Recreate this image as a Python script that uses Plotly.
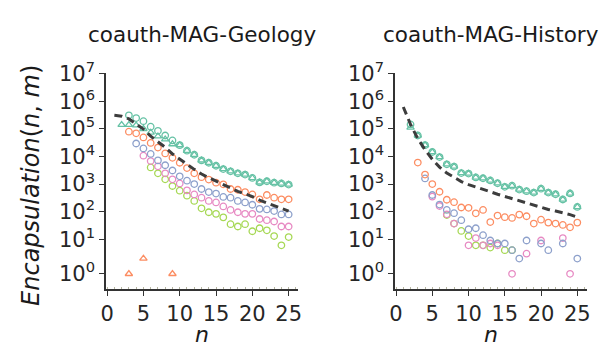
import math
import plotly.graph_objects as go

# ---------------- data ----------------
n_null = list(range(1, 26))

# coauth-MAG-Geology
geo_null = [309000, 288000, 229000, 145000, 98000, 54000, 34000, 21400, 12300, 7800,
            5200, 3400, 2300, 1700, 1260, 930, 710, 540, 440, 350, 260, 205, 162, 132, 105]
geo_teal_n = list(range(3, 26))
geo_teal = [309000, 245000, 190000, 120000, 85000, 57500, 38000, 25700, 16200, 11500,
            7200, 5900, 4600, 3500, 2900, 2450, 2200, 1660, 1150, 1260, 1120, 1050, 955]
geo_teal_tri_n = list(range(2, 26))
geo_teal_tri = [140000, 140000, 135000, 100000, 74000, 54000, 42000, 28000, 25700, 16200,
                11500, 7200, 5900, 4600, 3500, 2900, 2450, 2200, 1660, 1150, 1260, 1120, 1050, 955]
geo_orange_n = list(range(3, 26))
geo_orange = [79000, 69000, 49000, 31000, 21000, 12900, 8900, 5900, 3800, 2450, 1780, 1450,
              1120, 980, 660, 620, 510, 420, 280, 400, 320, 280, 280]
geo_orange_tri_n = [3, 5, 9]
geo_orange_tri = [1, 2, 1]
geo_purple_n = list(range(4, 26))
geo_purple = [29500, 19500, 12300, 7200, 4800, 3100, 1900, 1320, 1000, 660, 510, 450, 340,
              320, 245, 215, 178, 126, 120, 105, 79, 79]
geo_pink_n = list(range(5, 26))
geo_pink = [10700, 6800, 4400, 2450, 1480, 1050, 590, 420, 320, 245, 215, 155, 115, 95, 83,
            83, 54, 49, 44, 29, 29]
geo_green_n = list(range(6, 26))
geo_green = [4000, 2450, 1480, 850, 575, 380, 245, 132, 95, 83, 62, 35, 29, 35, 19.5, 25,
             21, 13, 6, 12]

# coauth-MAG-History
his_null = [617000, 145000, 44000, 17400, 7900, 4100, 2500, 1740, 1230, 955, 795, 630, 525,
            427, 355, 288, 240, 200, 170, 141, 120, 105, 93, 78, 63]
his_teal_n = list(range(2, 26))
his_teal = [145000, 57500, 25700, 14500, 9500, 5200, 4300, 2500, 2400, 1740, 1620, 1350,
            1070, 795, 870, 630, 550, 490, 680, 490, 427, 275, 457, 148]
his_teal_tri = [112000, 57500, 25700, 14500, 9500, 5200, 4300, 2500, 2400, 1740, 1620, 1350,
                1070, 795, 870, 630, 550, 490, 680, 490, 427, 275, 457, 148]
his_orange_n = list(range(3, 26))
his_orange = [6000, 2200, 1000, 525, 270, 220, 141, 138, 87, 115, 42, 72, 63, 59, 78, 68,
              37, 51, 40, 37, 33, 27, 40]
his_purple_n = list(range(4, 26))
his_purple = [1600, 400, 180, 115, 88, 49, 23, 25, 14, 9, 7, 7, 4, 2, 9, None, 7, 4, None,
              7, None, 2]
his_pink_n = list(range(5, 26))
his_pink = [350, 160, 80, 37, None, 6, 11, 6, 7, 6, None, 1, None, 3, None, 9, None, None,
            11, 1, None]
his_green_n = list(range(7, 17))
his_green = [75, 37, 20, 13, 6, 6, 5, 7, 4, 4]

titles = ["coauth-MAG-Geology", "coauth-MAG-History"]
ytick_exp = [0, 1, 2, 3, 4, 5, 6, 7]
xtick_vals = [0, 5, 10, 15, 20, 25]

# ---------------- symlog scale ----------------
LINTHRESH = 2.0
LINSCALE_ADJ = 1.0 / (1.0 - 1.0 / 10.0)


def symlog(v):
    if v is None:
        return None
    a = abs(v)
    if a <= LINTHRESH:
        return v * LINSCALE_ADJ
    s = 1 if v > 0 else -1
    return s * LINTHRESH * (LINSCALE_ADJ + math.log10(a / LINTHRESH))


def tr(vals):
    return [symlog(v) for v in vals]


C_TEAL = "#66c2a5"
C_ORANGE = "#fc8d62"
C_PURPLE = "#8da0cb"
C_PINK = "#e78ac3"
C_GREEN = "#a6d854"
C_NULL = "#3d3d3d"
FONT = "DejaVu Sans"

fig = go.Figure()


def add_markers(xa, ya, xs, ys, color, symbol="circle-open"):
    fig.add_trace(go.Scatter(
        x=xs, y=tr(ys), mode="markers", xaxis=xa, yaxis=ya, showlegend=False,
        marker=dict(symbol=symbol, size=6.5, color=color, line=dict(width=1.3, color=color)),
    ))


def add_null(xa, ya, ys):
    fig.add_trace(go.Scatter(
        x=n_null, y=tr(ys), mode="lines", xaxis=xa, yaxis=ya, showlegend=False,
        line=dict(color=C_NULL, width=3, dash="8px,5px"),
    ))


# Geology panel
add_markers("x", "y", geo_green_n, geo_green, C_GREEN)
add_markers("x", "y", geo_pink_n, geo_pink, C_PINK)
add_markers("x", "y", geo_purple_n, geo_purple, C_PURPLE)
add_markers("x", "y", geo_orange_n, geo_orange, C_ORANGE)
add_markers("x", "y", geo_teal_n, geo_teal, C_TEAL)
add_markers("x", "y", geo_orange_tri_n, geo_orange_tri, C_ORANGE, "triangle-up-open")
add_markers("x", "y", geo_teal_tri_n, geo_teal_tri, C_TEAL, "triangle-up-open")
add_null("x", "y", geo_null)

# History panel
add_markers("x2", "y2", his_green_n, his_green, C_GREEN)
add_markers("x2", "y2", his_pink_n, his_pink, C_PINK)
add_markers("x2", "y2", his_purple_n, his_purple, C_PURPLE)
add_markers("x2", "y2", his_orange_n, his_orange, C_ORANGE)
add_markers("x2", "y2", his_teal_n, his_teal, C_TEAL)
add_markers("x2", "y2", his_teal_n, his_teal_tri, C_TEAL, "triangle-up-open")
add_null("x2", "y2", his_null)

W, H = 604, 349
xdom = [[101.7 / W, 297.0 / W], [395.5 / W, 590.5 / W]]
ydom = [1 - 286.5 / H, 1 - 61.0 / H]

yt_vals = [symlog(10 ** k) for k in ytick_exp]
yt_text = ["10<sup>%d</sup>" % k for k in ytick_exp]

axis_common = dict(
    showline=True, linecolor="#333333", linewidth=1.5, showgrid=False, zeroline=False,
    ticks="outside", ticklen=5, tickwidth=1.3, tickcolor="#333333",
    tickfont=dict(family=FONT, size=21, color="#262626"),
)

layout = dict(
    width=W, height=H, margin=dict(l=0, r=0, t=0, b=0),
    paper_bgcolor="white", plot_bgcolor="white", showlegend=False,
    font=dict(family=FONT),
)
for i, (xn, yn) in enumerate([("xaxis", "yaxis"), ("xaxis2", "yaxis2")]):
    layout[xn] = dict(
        domain=xdom[i], range=[-0.15, 26.3], tickvals=xtick_vals,
        anchor="y" if i == 0 else "y2",
        minor=dict(ticks="inside", dtick=1, ticklen=2, tickwidth=1, tickcolor="#b5b5a0"),
        **axis_common,
    )
    layout[yn] = dict(
        domain=ydom, range=[0, symlog(1e7) + 0.02], tickvals=yt_vals, ticktext=yt_text,
        anchor="x" if i == 0 else "x2",
        **axis_common,
    )

fig.update_layout(**layout)

annotations = []
for i, t in enumerate(titles):
    cx = (xdom[i][0] + xdom[i][1]) / 2
    annotations.append(dict(
        text=t, x=cx, y=1 - 20 / H, xref="paper", yref="paper", showarrow=False,
        xanchor="center", yanchor="middle", font=dict(family=FONT, size=21.5, color="#1a1a1a"),
    ))
    annotations.append(dict(
        text="<i>n</i>", x=cx, y=0, xref="paper", yref="paper", showarrow=False,
        xanchor="center", yanchor="bottom", font=dict(family=FONT, size=22, color="#1a1a1a"),
    ))
annotations.append(dict(
    text="<i>Encapsulation</i>(<i>n</i>, <i>m</i>)", x=26 / W, y=1 - 178 / H,
    xref="paper", yref="paper", showarrow=False, textangle=-90,
    xanchor="center", yanchor="middle", font=dict(family=FONT, size=24, color="#1a1a1a"),
))
fig.update_layout(annotations=annotations)

fig.write_html(
    "out.html",
    config={"displayModeBar": False},
    post_script="document.body.style.margin='0';document.body.style.overflow='hidden';",
)
